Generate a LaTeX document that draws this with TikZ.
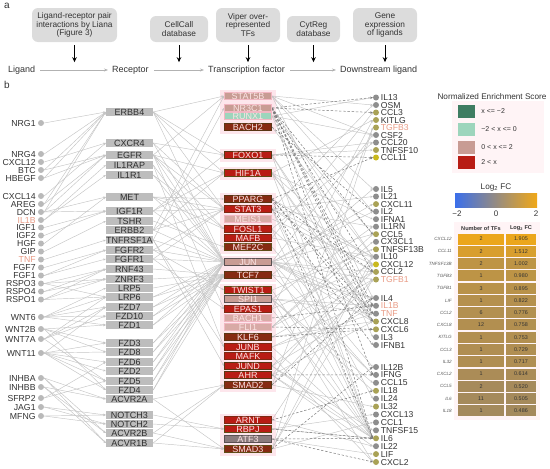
\documentclass[tikz,border=0pt]{standalone}
\usepackage{fontspec}
\setmainfont{Liberation Sans}
\usetikzlibrary{arrows.meta}

\definecolor{boxgray}{HTML}{DCDCDC}
\definecolor{txtgray}{HTML}{333333}
\definecolor{recgray}{HTML}{BDBDBD}
\definecolor{liggray}{HTML}{B9B9B9}
\definecolor{linkgray}{HTML}{C4C4C4}
\definecolor{dashgray}{HTML}{7A7A7A}
\definecolor{salmon}{HTML}{E89A84}
\definecolor{dgray}{HTML}{8E8E8E}
\definecolor{dolive}{HTML}{A9A256}
\definecolor{dyellow}{HTML}{C9B91E}
\definecolor{tfbg}{HTML}{FDE6EC}
\definecolor{panelpink}{HTML}{FFF4F6}
\definecolor{nesred}{HTML}{B81C14}
\definecolor{nesbrown}{HTML}{862A12}
\definecolor{nespink}{HTML}{C89C94}
\definecolor{nespinklt}{HTML}{D8AAA6}
\definecolor{nesgreenlt}{HTML}{9DD5BC}
\definecolor{nesgreendk}{HTML}{3F7D62}
\definecolor{atfgray}{HTML}{8A7B7D}
\definecolor{bdbrown}{HTML}{5A3614}
\definecolor{bdolive}{HTML}{5E4C16}
\definecolor{bdred}{HTML}{7C2A14}
\definecolor{bdpink}{HTML}{F2B6C2}
\definecolor{bdgray}{HTML}{5A5052}
\definecolor{tftext}{HTML}{FBE4E4}
\definecolor{fcblue}{HTML}{3B6FEA}
\definecolor{fcmid}{HTML}{8C8073}
\definecolor{fcorange}{HTML}{F0A818}

\pgfdeclarelayer{back}
\pgfdeclarelayer{edges}
\pgfsetlayers{back,edges,main}

\tikzset{
  hbox/.style={fill=boxgray, rounded corners=6pt, align=center, text=txtgray,
    font=\fontsize{8.3}{8.3}\selectfont, inner sep=1pt},
  headarrow/.style={line width=1pt, -{Stealth[length=5pt,width=4.5pt]}},
  rowlab/.style={font=\fontsize{9}{10}\selectfont, anchor=west, inner sep=0pt, text=txtgray},
  rowarrow/.style={draw=gray!60, line width=0.6pt, -{Stealth[length=4pt,width=3pt]}},
  ligdot/.style={circle, fill=liggray, minimum size=6pt, inner sep=0pt},
  liglab/.style={font=\fontsize{8.7}{8.7}\selectfont, inner sep=0pt, text=txtgray,
    text height=6.1pt, text depth=0pt},
  recbox/.style={fill=recgray, minimum width=47pt, minimum height=8.6pt, inner sep=0pt,
    text height=6.4pt, text depth=0pt, font=\fontsize{9}{9}\selectfont, text=txtgray!90!black},
  tfbox/.style={minimum width=47pt, minimum height=7.8pt, inner sep=0pt, line width=0.9pt,
    text height=6.4pt, text depth=0pt, font=\fontsize{9}{9}\selectfont, text=tftext},
  dsdot/.style={circle, minimum size=6pt, inner sep=0pt},
  dslab/.style={font=\fontsize{8.6}{8.6}\selectfont, inner sep=0pt, text=txtgray,
    text height=6pt, text depth=0pt},
  link/.style={draw=linkgray, line width=0.45pt, -{Stealth[length=2.6pt,width=2.2pt]}},
  replink/.style={draw=dashgray, line width=0.5pt, dash pattern=on 2.4pt off 1.8pt,
    -{Stealth[length=2.6pt,width=2.2pt]}},
  legtxt/.style={font=\fontsize{7}{7}\selectfont, anchor=west, inner sep=0pt, text=txtgray},
  celltxt/.style={font=\fontsize{5.4}{5.4}\selectfont, inner sep=0pt, text=black!80},
}

\begin{document}
\begin{tikzpicture}[x=1pt,y=-1pt]
\useasboundingbox (0,0) rectangle (550,469);

% panel a
\node[font=\fontsize{10}{10}\selectfont, text=txtgray] (pa) at (7,6) {a};
\node[hbox, minimum width=85pt, minimum height=34pt] (hLiana) at (74.5,25) {Ligand-receptor pair\\interactions by Liana\\(Figure 3)};
\node[hbox, minimum width=58pt, minimum height=26pt] (hCellCall) at (179,29) {CellCall\\database};
\node[hbox, minimum width=64pt, minimum height=34pt] (hViper) at (248,25) {Viper over-\\represented\\TFs};
\node[hbox, minimum width=53pt, minimum height=26pt] (hCytReg) at (313.5,29) {CytReg\\database};
\node[hbox, minimum width=64pt, minimum height=34pt] (hGene) at (385,25) {Gene\\expression\\of ligands};
\foreach \h in {Liana,CellCall,Viper,CytReg,Gene}
  \draw[headarrow] ([yshift=-3pt]h\h.south) -- ++(0,17);

\node[rowlab] (rowLig) at (8,70) {Ligand};
\node[rowlab] (rowRec) at (112,70) {Receptor};
\node[rowlab] (rowTF) at (208,70) {Transcription factor};
\node[rowlab] (rowDown) at (340,70) {Downstream ligand};
\draw[rowarrow] ([xshift=5pt]rowLig.east) -- ([xshift=-4pt]rowRec.west);
\draw[rowarrow] ([xshift=5pt]rowRec.east) -- ([xshift=-4pt]rowTF.west);
\draw[rowarrow] ([xshift=5pt]rowTF.east) -- ([xshift=-4pt]rowDown.west);

% panel b
\node[font=\fontsize{10}{10}\selectfont, text=txtgray] (pb) at (7,85) {b};

% TF backing strips
\begin{pgfonlayer}{back}
\foreach \y in {96,108,116,127,155,173,199,209,219,229,238,247,262,275,290,299,309,318,327,337,347,356,366,375,385,420,429,439,449}
  \fill[tfbg] (220,\y-6.5) rectangle (276,\y+6.5);
\end{pgfonlayer}

% ligands
\foreach \n/\y/\tc in {NRG1/123/txtgray, NRG4/154/txtgray, CXCL12/162/txtgray, BTC/170/txtgray,
    HBEGF/178/txtgray, CXCL14/196/txtgray, AREG/204/txtgray, DCN/212/txtgray, IL1B/220/salmon,
    IGF1/227.5/txtgray, IGF2/235.5/txtgray, HGF/243.5/txtgray, GIP/251.5/txtgray, TNF/259.5/salmon,
    FGF7/267.5/txtgray, FGF1/275.5/txtgray, RSPO3/283.5/txtgray, RSPO4/291.5/txtgray, RSPO1/299.5/txtgray,
    WNT6/317/txtgray, WNT2B/329/txtgray, WNT7A/339/txtgray, WNT11/353/txtgray, INHBA/378/txtgray,
    INHBB/387/txtgray, SFRP2/398/txtgray, JAG1/407/txtgray, MFNG/416/txtgray}
  \node[ligdot, label={[liglab, text=\tc, label distance=2pt]left:\n}] (l\n) at (41,\y) {};

% receptors
\foreach \n/\y in {ERBB4/112, CXCR4/143, EGFR/155, IL1RAP/165, IL1R1/175, MET/197, IGF1R/211,
    TSHR/221, ERBB2/230, TNFRSF1A/240, FGFR2/250, FGFR1/259, RNF43/269, ZNRF3/279, LRP5/288,
    LRP6/297, FZD7/307, FZD10/316, FZD1/325, FZD3/343, FZD8/352, FZD6/362, FZD2/371, FZD5/381,
    FZD4/390, ACVR2A/399, NOTCH3/415, NOTCH2/424, ACVR2B/433, ACVR1B/443}
  \node[recbox] (r\n) at (129.5,\y) {\n};

% transcription factors
\foreach \n/\y/\f/\d in {STAT5B/96/nespink/bdpink, NR3C1/108/nespink/bdpink, RUNX1/116/nesgreenlt/bdpink,
    BACH2/127/nesbrown/bdbrown, FOXO1/155/nesred/bdbrown, HIF1A/173/nesred/bdolive,
    PPARG/199/nesbrown/bdbrown, STAT3/209/nesred/bdred, MEIS1/219/nespinklt/bdpink,
    FOSL1/229/nesred/bdred, MAFB/238/nesred/bdred, MEF2C/247/nesbrown/bdolive,
    JUN/262/nespink/bdgray, TCF7/275/nesbrown/bdbrown, TWIST1/290/nesred/bdolive,
    SPI1/299/nespink/bdgray, EPAS1/309/nesred/bdred, BACH1/318/nespinklt/bdpink,
    FLI1/327/nespinklt/bdpink, KLF6/337/nesbrown/bdbrown, JUNB/347/nesred/bdred,
    MAFK/356/nesred/bdred, JUND/366/nesred/bdbrown, AHR/375/nesred/bdbrown,
    SMAD2/385/nesbrown/bdbrown, ARNT/420/nesred/bdred, RBPJ/429/nesred/bdolive,
    ATF3/439/atfgray/bdgray, SMAD3/449/nesbrown/bdolive}
  \node[tfbox, fill=\f, draw=\d] (t\n) at (248,\y) {\n};

% downstream ligands
\foreach \n/\y/\c/\tc in {IL13/97.5/dgray/txtgray, OSM/105/dgray/txtgray, CCL3/112.5/dolive/txtgray,
    KITLG/120/dolive/txtgray, TGFB3/127.5/dolive/salmon, CSF2/135/dgray/txtgray, CCL20/142.5/dgray/txtgray,
    TNFSF10/150/dolive/txtgray, CCL11/157.5/dyellow/txtgray, IL5/189/dgray/txtgray, IL21/196.5/dgray/txtgray,
    CXCL11/204.1/dolive/txtgray, IL2/211.6/dgray/txtgray, IFNA1/219.2/dgray/txtgray, IL1RN/226.7/dgray/txtgray,
    CCL5/234.2/dolive/txtgray, CX3CL1/241.8/dgray/txtgray, TNFSF13B/249.3/dolive/txtgray, IL10/256.8/dgray/txtgray,
    CXCL12/264.4/dyellow/txtgray, CCL2/271.9/dolive/txtgray, TGFB1/279.5/dolive/salmon, IL4/298/dgray/txtgray,
    IL1B/305.8/dgray/salmon, TNF/313.7/dgray/salmon, CXCL8/321.5/dolive/txtgray, CXCL6/329.3/dolive/txtgray,
    IL3/337.2/dgray/txtgray, IFNB1/345/dgray/txtgray, IL12B/367/dgray/txtgray, IFNG/374.9/dgray/txtgray,
    CCL15/382.8/dgray/txtgray, IL18/390.8/dolive/txtgray, IL24/398.7/dgray/txtgray, IL32/406.6/dolive/txtgray,
    CXCL13/414.5/dgray/txtgray, CCL1/422.4/dgray/txtgray, TNFSF15/430.3/dgray/txtgray, IL6/438.3/dolive/txtgray,
    IL22/446.2/dgray/txtgray, LIF/454.1/dolive/txtgray, CXCL2/462/dolive/txtgray}
  \node[dsdot, fill=\c, label={[dslab, text=\tc, label distance=1.5pt]right:\n}] (d\n) at (376,\y) {};

\begin{pgfonlayer}{edges}
% ligand -> receptor
\foreach \a/\b in {NRG1/ERBB4, NRG4/ERBB4, CXCL12/CXCR4, BTC/ERBB4, BTC/EGFR, HBEGF/ERBB4, HBEGF/EGFR,
    CXCL14/CXCR4, AREG/EGFR, AREG/ERBB4, DCN/EGFR, DCN/MET, DCN/ERBB4, DCN/IGF1R, IL1B/IL1RAP, IL1B/IL1R1,
    IGF1/IGF1R, IGF2/IGF1R, HGF/MET, GIP/TSHR, TNF/TNFRSF1A, FGF7/FGFR2, FGF1/FGFR2, FGF1/FGFR1,
    RSPO3/RNF43, RSPO3/ZNRF3, RSPO3/LRP6, RSPO4/RNF43, RSPO4/ZNRF3, RSPO1/RNF43, RSPO1/ZNRF3, RSPO1/LRP6,
    WNT6/FZD7, WNT6/FZD10, WNT6/FZD1, WNT6/LRP5, WNT6/LRP6, WNT2B/FZD1, WNT2B/FZD3, WNT2B/FZD8, WNT2B/FZD4,
    WNT7A/FZD10, WNT7A/FZD5, WNT7A/LRP6, WNT7A/FZD7, WNT11/FZD3, WNT11/FZD8, WNT11/FZD6, WNT11/FZD2,
    WNT11/FZD5, WNT11/FZD4, WNT11/FZD7, INHBA/ACVR2A, INHBA/ACVR2B, INHBA/ACVR1B, INHBB/ACVR2A,
    INHBB/ACVR2B, INHBB/ACVR1B, SFRP2/FZD5, SFRP2/FZD6, JAG1/NOTCH3, JAG1/NOTCH2, MFNG/NOTCH3, MFNG/NOTCH2}
  \draw[link] (l\a.east) -- (r\b.west);

% receptor -> TF
\foreach \a/\b in {ERBB4/STAT5B, ERBB4/STAT3, ERBB4/FOXO1, ERBB4/JUN, ERBB4/HIF1A, CXCR4/STAT3, CXCR4/JUN,
    CXCR4/FOXO1, EGFR/STAT5B, EGFR/STAT3, EGFR/FOSL1, EGFR/JUN, EGFR/EPAS1, EGFR/HIF1A, IL1RAP/JUN,
    IL1RAP/JUNB, IL1R1/JUN, IL1R1/FOSL1, MET/STAT3, MET/JUN, MET/PPARG, MET/FOSL1, IGF1R/FOXO1,
    IGF1R/HIF1A, IGF1R/JUN, IGF1R/STAT3, TSHR/MEF2C, ERBB2/STAT3, ERBB2/HIF1A, ERBB2/JUN, ERBB2/STAT5B,
    TNFRSF1A/JUN, TNFRSF1A/JUNB, TNFRSF1A/JUND, TNFRSF1A/NR3C1, FGFR2/STAT3, FGFR2/JUN, FGFR2/TWIST1,
    FGFR1/STAT3, FGFR1/JUN, FGFR1/EPAS1, RNF43/TCF7, ZNRF3/TCF7, LRP5/TCF7, LRP6/TCF7, LRP6/JUN,
    FZD7/TCF7, FZD7/JUN, FZD10/TCF7, FZD10/JUN, FZD1/TCF7, FZD1/JUN, FZD3/TCF7, FZD3/JUN, FZD8/TCF7,
    FZD8/JUN, FZD6/TCF7, FZD6/JUN, FZD2/TCF7, FZD2/JUN, FZD5/TCF7, FZD5/JUN, FZD4/TCF7, FZD4/JUN,
    ACVR2A/SMAD2, ACVR2A/SMAD3, NOTCH3/RBPJ, NOTCH2/RBPJ, ACVR2B/SMAD2, ACVR2B/SMAD3, ACVR1B/SMAD2,
    ACVR1B/SMAD3}
  \draw[link] (r\a.east) -- (t\b.west);

% TF -> downstream ligand, activation
\foreach \a/\b in {STAT5B/IL2, STAT5B/CSF2, STAT5B/IL4, STAT5B/OSM, STAT5B/IL5, NR3C1/IL10, RUNX1/CSF2,
    RUNX1/IL3, RUNX1/CCL5, RUNX1/IL13, BACH2/IL10, FOXO1/CCL20, FOXO1/IL6, FOXO1/CXCL8, FOXO1/IL1B,
    FOXO1/TNFSF10, HIF1A/CXCL12, HIF1A/TNF, HIF1A/IL6, HIF1A/CXCL8, HIF1A/KITLG, PPARG/IL10, STAT3/IL6,
    STAT3/IL10, STAT3/IL21, STAT3/OSM, STAT3/CCL2, STAT3/IL24, STAT3/IL1RN, MEIS1/CXCL12, FOSL1/CXCL8,
    FOSL1/IL6, FOSL1/CCL20, MAFB/IL10, MAFB/CCL3, MEF2C/IL12B, JUN/CXCL8, JUN/IL6, JUN/CSF2, JUN/TNF,
    JUN/IL1B, JUN/CCL2, JUN/IL2, JUN/IFNG, JUN/IL4, JUN/TGFB1, JUN/CCL5, JUN/CXCL11, TCF7/IL4, TCF7/IL5,
    TCF7/IFNG, TWIST1/IL6, TWIST1/TNFSF13B, SPI1/IL1B, SPI1/CXCL2, SPI1/TNF, SPI1/IL18, SPI1/CCL15,
    SPI1/IL1RN, EPAS1/CXCL12, EPAS1/IL6, EPAS1/KITLG, FLI1/CCL2, FLI1/CCL5, FLI1/CX3CL1, KLF6/TGFB1,
    KLF6/CXCL8, JUNB/IL4, JUNB/IL6, JUNB/TNF, MAFK/CXCL2, JUND/IL6, JUND/IL1B, JUND/CCL2, JUND/TNFSF15,
    AHR/IL22, AHR/IL6, AHR/IL10, AHR/CXCL8, SMAD2/TGFB1, SMAD2/TGFB3, SMAD2/IL32, ARNT/IL22, ARNT/CXCL12,
    RBPJ/IL6, RBPJ/CXCL13, ATF3/LIF, SMAD3/TGFB1, SMAD3/TGFB3, SMAD3/IL10, SMAD3/CCL1, HIF1A/IFNA1}
  \draw[link] (t\a.east) -- (d\b.west);

% TF -> downstream ligand, repression
\foreach \a/\b in {NR3C1/IL13, NR3C1/CCL3, NR3C1/CCL2, NR3C1/CXCL8, NR3C1/IL1B, NR3C1/TNF, NR3C1/IL6,
    NR3C1/CCL5, NR3C1/IFNG, BACH2/IL2, FOXO1/CCL11, PPARG/CXCL8, PPARG/TNF, PPARG/IL6, PPARG/CCL2,
    PPARG/CCL11, STAT3/IFNB1, BACH1/IL1B, FLI1/CXCL6, SMAD2/IL4, RBPJ/IL6, ATF3/IL6, ATF3/CXCL2,
    SMAD3/IL12B, AHR/IFNG, ARNT/IL18, KLF6/CXCL6}
  \draw[replink] (t\a.east) -- (d\b.west);
\end{pgfonlayer}

% NES legend
\begin{pgfonlayer}{back}
\fill[panelpink] (452,101) rectangle (544,173);
\fill[panelpink] (454,222) rectangle (540,420);
\end{pgfonlayer}
\node[font=\fontsize{8.2}{9}\selectfont, text=txtgray] (nesTitle) at (492,97) {Normalized Enrichment Score};
\foreach \c/\y/\t in {nesgreendk/111/{x <= −2}, nesgreenlt/129.5/{−2 < x <= 0}, nespink/147/{0 < x <= 2}, nesred/162.5/{2 < x}}
  \node[fill=\c, minimum width=17pt, minimum height=13pt, inner sep=0pt,
        label={[legtxt, label distance=6pt]right:\t}] (nes\y) at (466.5,\y) {};

% log2 FC colour bar
\node[font=\fontsize{8.2}{9}\selectfont, text=txtgray] (fcTitle) at (496,187) {Log\textsubscript{2} FC};
\shade[left color=fcblue, middle color=fcmid, right color=fcorange] (455,193) rectangle (537,207);
\foreach \x/\t in {457/−2, 496/0, 536/2}
  \node[font=\fontsize{8}{8}\selectfont, text=txtgray] (tick\x) at (\x,214) {\t};

% table
\node[font=\bfseries\fontsize{5.6}{6}\selectfont, text=txtgray] (colTFs) at (481,228) {Number of TFs};
\node[font=\bfseries\fontsize{5.6}{6}\selectfont, text=txtgray] (colFC) at (521,228) {Log\textsubscript{2} FC};
\foreach \g/\k/\v/\p [count=\i from 0] in {CXCL12/2/1.905/95, CCL11/2/1.512/76, TNFSF13B/2/1.002/50,
    TGFB3/1/0.980/49, TGFB1/3/0.895/45, LIF/1/0.822/41, CCL2/6/0.776/39, CXCL8/12/0.758/38,
    KITLG/1/0.753/38, CCL3/1/0.729/36, IL32/1/0.717/36, CXCL2/1/0.614/31, CCL5/2/0.520/26,
    IL6/11/0.505/25, IL18/1/0.486/24} {
  \node[fill=fcorange!\p!fcmid, minimum width=46pt, minimum height=11pt, inner sep=0pt]
    (tk\i) at (481,239.1+12.27*\i) {};
  \node[fill=fcorange!\p!fcmid, minimum width=30pt, minimum height=11pt, inner sep=0pt]
    (tv\i) at (521,239.1+12.27*\i) {};
  \node[celltxt] at (tk\i) {\k};
  \node[celltxt] at (tv\i) {\v};
  \node[font=\itshape\fontsize{4.6}{5}\selectfont, text=gray!70!black, anchor=east, inner sep=0pt]
    (tg\i) at (452,239.1+12.27*\i) {\g};
}
\end{tikzpicture}
\end{document}
